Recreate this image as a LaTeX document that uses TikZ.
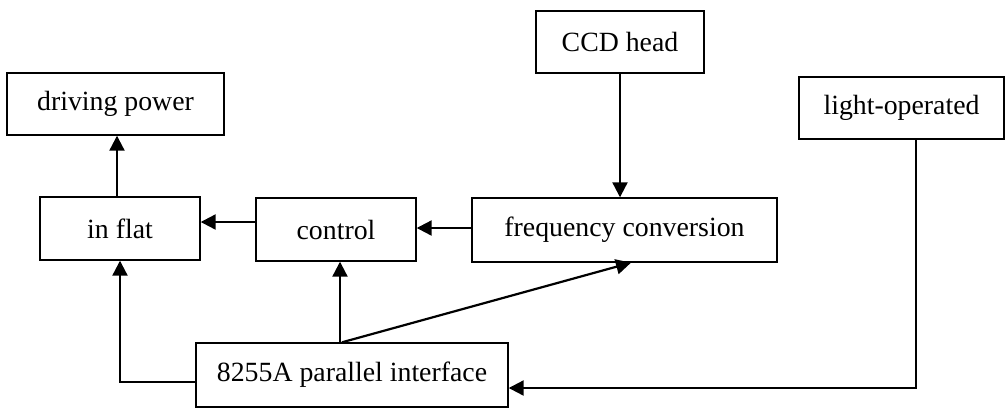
\documentclass[tikz,border=0pt]{standalone}
\usepackage{fontspec}
\setmainfont{Liberation Serif}
\usetikzlibrary{arrows.meta}
\begin{document}
\begin{tikzpicture}[x=0.5pt,y=-0.5pt,
  blk/.style={draw,line width=0.7pt,inner sep=0pt,font=\fontsize{13.9}{16}\selectfont},
  arr/.style={line width=1.1pt,-{Triangle[length=7.5pt,width=7.5pt]}},
  ln/.style={line width=1.1pt}]
\useasboundingbox (0,0) rectangle (1006,408);
\node[blk,minimum width=217*0.5pt,minimum height=62*0.5pt] (dp) at (115.5,104) {driving power};
\node[blk,minimum width=168*0.5pt,minimum height=62*0.5pt] (ccd) at (620,42) {CCD head};
\node[blk,minimum width=205*0.5pt,minimum height=62*0.5pt] (lo) at (901.5,108) {light-operated};
\node[blk,minimum width=160*0.5pt,minimum height=63*0.5pt] (inflat) at (120,228.5) {in flat};
\node[blk,minimum width=160*0.5pt,minimum height=63*0.5pt] (ctrl) at (336,229.5) {control};
\node[blk,minimum width=305*0.5pt,minimum height=64*0.5pt] (fc) at (624.5,230) {frequency conversion};
\node[blk,minimum width=312*0.5pt,minimum height=64*0.5pt] (ppi) at (352,375) {8255A parallel interface};
\coordinate (c1) at (117,0);
\coordinate (c2) at (0,222);
\coordinate (c3) at (0,228);
\coordinate (c4) at (340,0);
\coordinate (c5) at (342,0);
\coordinate (c6) at (631,0);
\coordinate (c7) at (0,382);
\coordinate (c8) at (916,388);
\draw[arr] (inflat.north -| c1) -- (dp.south -| c1);
\draw[arr] (ctrl.west |- c2) -- (inflat.east |- c2);
\draw[arr] (fc.west |- c3) -- (ctrl.east |- c3);
\draw[arr] (ccd.south) -- (fc.north -| ccd.south);
\draw[arr] (ppi.north -| c4) -- (ctrl.south -| c4);
\draw[arr] (ppi.north -| c5) -- (fc.south -| c6);
\draw[arr] (ppi.west |- c7) -| (inflat.south);
\draw[arr] (lo.south -| c8) |- (ppi.east |- c8);
\end{tikzpicture}
\end{document}
